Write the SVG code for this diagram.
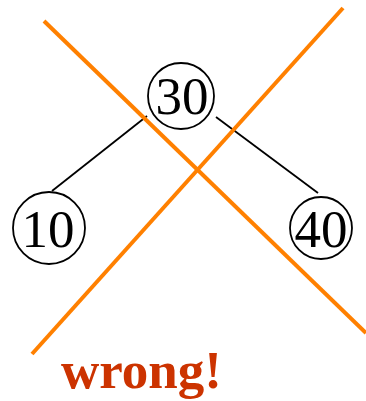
<svg xmlns="http://www.w3.org/2000/svg" width="366" height="401" viewBox="0 0 366 401">
<style>
.node circle{fill:#fff;stroke:#000;stroke-width:1.8}
.node text{font-family:"Liberation Serif","Times New Roman",serif;font-size:53px;fill:#000;text-anchor:middle}
.edge{stroke:#000;stroke-width:1.8;fill:none}
.cross{stroke:#ff8000;stroke-width:4;fill:none}
</style>
<g id="edges">
<line class="edge" x1="147" y1="116" x2="52" y2="191"/>
<line class="edge" x1="216" y1="117" x2="318" y2="193"/>
</g>
<g id="n30" class="node"><circle cx="181" cy="96" r="33"/><text x="182" y="114">30</text></g>
<g id="n10" class="node"><circle cx="49" cy="228" r="36"/><text x="48" y="247">10</text></g>
<g id="n40" class="node"><circle cx="321" cy="228" r="31"/><text x="321" y="247">40</text></g>
<g id="cross">
<line class="cross" x1="44" y1="21" x2="366" y2="333"/>
<line class="cross" x1="343" y1="8" x2="32" y2="354"/>
</g>
<text x="61" y="388" font-family="Liberation Serif, Times New Roman, serif" font-weight="bold" font-size="53" fill="#cc3300">wrong!</text>
</svg>
